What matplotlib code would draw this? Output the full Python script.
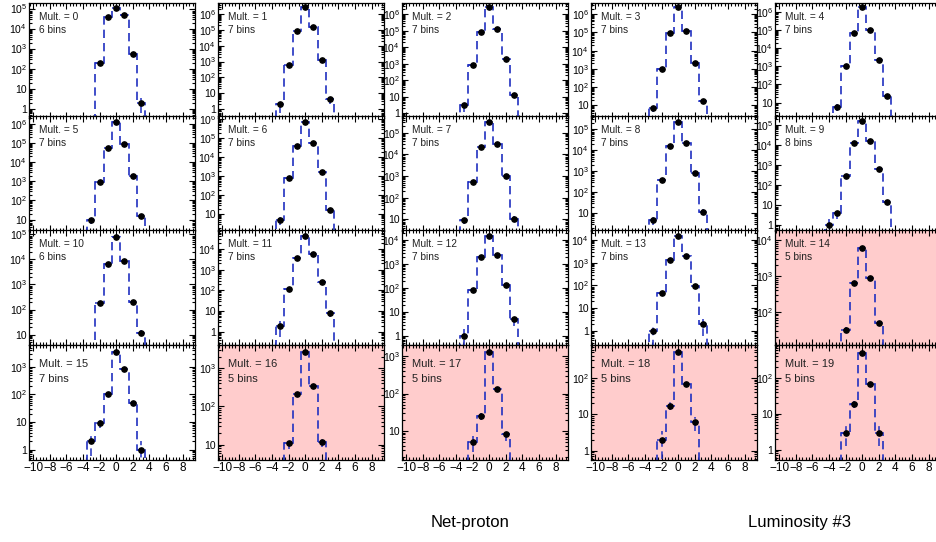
import numpy as np
import matplotlib
matplotlib.use("Agg")
import matplotlib.pyplot as plt
from matplotlib.ticker import LogLocator, FuncFormatter, MultipleLocator, NullFormatter
from matplotlib.transforms import Bbox, TransformedBbox

plt.rcParams['font.family'] = ['Liberation Sans', 'DejaVu Sans']
plt.rcParams['mathtext.fontset'] = 'custom'
plt.rcParams['mathtext.rm'] = 'Liberation Sans'
plt.rcParams['mathtext.it'] = 'Liberation Sans:italic'

# Net-proton number distributions, one list per multiplicity class.
# Each list starts at the bin given in first_bin and runs over consecutive integer bins.
counts_m0 = [190, 36000, 110000, 48000, 550, 2]
counts_m1 = [2, 590, 80000, 2900000, 150000, 1300, 4]
counts_m2 = [3, 870, 87000, 2800000, 127000, 1850, 13]
counts_m3 = [7, 1000, 88000, 2500000, 120000, 2200, 17]
counts_m4 = [6, 1000, 70000, 1800000, 100000, 2200, 23]
counts_m5 = [9, 950, 57000, 1300000, 85000, 1900, 16]
counts_m6 = [5, 830, 41000, 760000, 59000, 1600, 17]
counts_m7 = [9, 540, 21000, 300000, 30000, 1000, 11]
counts_m8 = [5, 370, 17000, 230000, 23000, 830, 12]
counts_m9 = [1, 4, 275, 12000, 150000, 15500, 580, 13]
counts_m10 = [180, 6600, 76000, 8900, 200, 12]
counts_m11 = [2, 120, 3600, 44000, 5500, 250, 8]
counts_m12 = [1, 80, 1900, 15000, 2300, 140, 5]
counts_m13 = [1, 47, 1300, 15000, 2000, 95, 2]
counts_m14 = [32, 640, 6100, 880, 49]
counts_m15 = [2, 9, 100, 3500, 830, 50, 1]
counts_m16 = [11, 210, 2600, 350, 12]
counts_m17 = [5, 25, 1300, 130, 8]
counts_m18 = [2, 17, 520, 66, 6]
counts_m19 = [3, 19, 500, 68, 3]

first_bin = [-2, -3, -3, -3, -3, -3, -3, -3, -3, -4,
             -2, -3, -3, -3, -2, -3, -2, -2, -2, -2]

# Multiplicity classes with too few populated bins
flagged = [14, 16, 17, 18, 19]

# Vertical axis ranges (log scale) of each pad
y_ranges = [(0.36, 1.9e5), (0.29, 5e6), (0.55, 4.7e6), (2.2, 4.1e6), (1.5, 3e6),
            (2.7, 2.6e6), (1.4, 1.5e6), (3.1, 5.9e5), (1.5, 4.4e5), (0.5, 2.8e5),
            (4.0, 1.5e5), (0.25, 8.2e4), (0.45, 2.6e4), (0.26, 2.7e4), (12.5, 1.9e4),
            (0.44, 6.2e3), (4.1, 4.0e3), (1.7, 2.0e3), (0.57, 800), (0.53, 830)]

x_range = (-10.5, 9.5)
x_ticks = [-10, -8, -6, -4, -2, 0, 2, 4, 6, 8]

all_counts = [counts_m0, counts_m1, counts_m2, counts_m3, counts_m4,
              counts_m5, counts_m6, counts_m7, counts_m8, counts_m9,
              counts_m10, counts_m11, counts_m12, counts_m13, counts_m14,
              counts_m15, counts_m16, counts_m17, counts_m18, counts_m19]

W, H = 936, 542
fig = plt.figure(figsize=(W / 100, H / 100), dpi=100)

col_left = [29, 218, 402, 591, 775]
row_top = [3, 116, 230, 345]
pad_w, pad_h = 166, 114.5

line_blue = '#2030c0'
pink = '#ffcccc'
dash = (0, (5, 3))


def log_label(v, pos):
    e = int(round(np.log10(v)))
    if e == 0:
        return '1'
    if e == 1:
        return '10'
    return r'$\mathregular{10^{%d}}$' % e


axes = []
for m, counts in enumerate(all_counts):
    r, c = divmod(m, 5)
    left = col_left[c] / W
    bottom = 1 - (row_top[r] + pad_h) / H
    ax = fig.add_axes([left, bottom, pad_w / W, pad_h / H])
    if m in flagged:
        ax.set_facecolor(pink)

    vals = np.array(counts, dtype=float)
    centers = first_bin[m] + np.arange(len(vals))
    edges = np.append(centers - 0.5, centers[-1] + 0.5)

    ax.stairs(vals, edges, baseline=1e-4, color=line_blue, lw=1.2,
              linestyle=dash, zorder=2)
    eb = ax.errorbar(centers, vals, yerr=np.sqrt(vals), xerr=0.5, fmt='o',
                     ms=3.8, mfc='black', mec='black', ecolor=line_blue,
                     elinewidth=1.1, capsize=0, zorder=3)
    for coll in eb[2]:
        coll.set_linestyle(dash)

    ax.set_yscale('log')
    ax.set_xlim(*x_range)
    ax.set_ylim(*y_ranges[m])

    ax.xaxis.set_major_locator(plt.FixedLocator(x_ticks))
    ax.xaxis.set_minor_locator(MultipleLocator(0.4))
    ax.yaxis.set_major_locator(LogLocator(base=10, numticks=30))
    ax.yaxis.set_minor_locator(LogLocator(base=10, subs=np.arange(2, 10), numticks=30))
    ax.yaxis.set_major_formatter(FuncFormatter(log_label))
    ax.yaxis.set_minor_formatter(NullFormatter())
    ax.tick_params(which='both', direction='in', top=True, right=(c < 4),
                   width=0.8, colors='black')
    ax.tick_params(which='major', length=4.5)
    ax.tick_params(which='minor', length=2.3)
    ax.tick_params(axis='y', labelsize=7.5, pad=1.5)
    ax.tick_params(axis='x', labelsize=8.5, pad=2)
    if r < 3:
        ax.set_xticklabels([])
    for s in ax.spines.values():
        s.set_linewidth(0.9)

    if r == 3:
        fs, y1, y2 = 8.0, 0.83, 0.70
    else:
        fs, y1, y2 = 7.3, 0.88, 0.76
    ax.text(0.06, y1, 'Mult. = %d' % m, transform=ax.transAxes,
            fontsize=fs, ha='left', va='center', color='#222222')
    ax.text(0.06, y2, '%d bins' % len(vals), transform=ax.transAxes,
            fontsize=fs, ha='left', va='center', color='#222222')
    axes.append((ax, left, bottom))

fig.text(470 / W, 1 - 523 / H, 'Net-proton', ha='center', va='center', fontsize=12)
fig.text(800 / W, 1 - 523 / H, 'Luminosity #3', ha='center', va='center', fontsize=12)

# Each pad's y labels stay inside the pad's own horizontal band
fig.canvas.draw()
for ax, left, bottom in axes:
    band = TransformedBbox(Bbox([[0.0, bottom], [left + pad_w / W, bottom + pad_h / H]]),
                           fig.transFigure)
    for tick in ax.yaxis.get_major_ticks():
        tick.label1.set_clip_box(band)
        tick.label1.set_clip_on(True)

fig.savefig('out.png', dpi=100)
